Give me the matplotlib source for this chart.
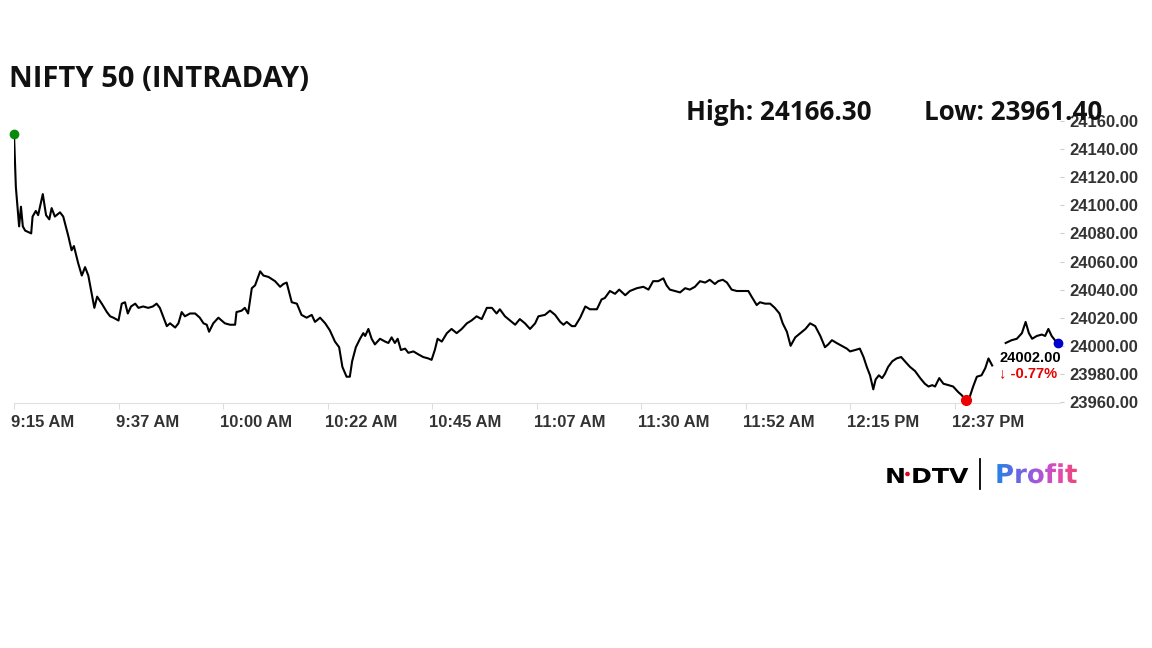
import numpy as np
import matplotlib
matplotlib.use('Agg')
import matplotlib.pyplot as plt
import matplotlib.transforms as mtransforms
from matplotlib.textpath import TextPath
from matplotlib.patches import PathPatch, Circle
from matplotlib.font_manager import FontProperties
from matplotlib.colors import LinearSegmentedColormap

# ====> data: minutes after 9:15 AM and index level
nan = np.nan
minutes = [
    0, 0.4, 1.1, 1.5, 1.9, 2.4, 3.7, 4.0, 4.7, 5.2,
    6.2, 6.9, 7.6, 8.1, 8.8, 9.9, 10.6, 11.7, 12.4, 12.9,
    13.8, 14.6, 15.3, 16.0, 17.3, 17.9, 18.9, 20.0, 20.7, 21.4,
    22.5, 23.2, 23.9, 24.5, 25.2, 26.1, 26.8, 27.8, 28.9, 29.9,
    30.7, 31.4, 32.1, 32.9, 33.6, 34.7, 35.4, 36.1, 36.8, 37.9,
    39.0, 40.0, 40.8, 41.5, 42.0, 42.9, 44.0, 44.7, 45.4, 46.5,
    47.6, 47.9, 49.0, 49.7, 50.4, 51.2, 51.9, 53.0, 53.7, 54.8,
    56.2, 57.3, 58.0, 58.7, 59.8, 60.9, 61.9, 63.0, 64.1, 64.8,
    65.9, 67.0, 68.0, 69.1, 70.0, 70.7, 71.6, 72.3, 72.8, 73.6,
    74.5, 75.2, 75.6, 76.3, 77.0, 77.7, 78.8, 79.9, 80.6, 81.3,
    82.0, 82.6, 83.3, 84.2, 84.9, 86.0, 87.0, 88.1, 89.2, 89.9,
    90.6, 91.2, 92.1, 93.2, 94.2, 95.3, 96.4, 97.5, 98.5, 99.6,
    100.7, 101.8, 102.9, 103.9, 104.6, 105.7, 106.8, 107.9, 108.9, 110.0,
    111.1, 112.2, 112.9, 114.3, 115.4, 116.5, 117.6, 118.3, 119.0, 120.1,
    120.8, 121.9, 123.0, 124.0, 125.5, 126.5, 127.2, 128.3, 129.4, 130.3,
    131.6, 132.6, 134.1, 135.5, 136.6, 137.6, 138.7, 139.8, 140.5, 141.2,
    142.3, 143.4, 144.5, 145.5, 146.6, 147.7, 148.8, 149.8, 150.9, 151.6,
    152.6, 153.5, 154.5, 155.6, 157.0, 158.1, 158.8, 159.9, 160.6, 161.7,
    162.8, 163.8, 164.8, 165.5, 166.4, 167.2, 168.2, 169.3, 170.4, 171.4,
    172.5, 173.6, 174.6, 175.3, 176.1, 177.1, 178.2, 179.3, 180.0, 181.1,
    182.1, 182.9, 183.6, 184.3, 185.0, 185.5, 186.2, 186.9, 187.5, 188.2,
    189.1, 190.0, 191.0, 191.8, 192.9, 194.0, 195.1, 196.1, 196.9, 197.7,
    198.3, 199.2, 200.1, 201.2, 202.2, 203.3, 204.0, 204.9, 205.8, 206.5,
    207.3, 208.3, 209.1, 209.8, 210.6, 212.0, 213.5, 214.8, 215.9, 217.0,
    217.8, 218.5, 219.2, 220.2, 221.3, 222.0, 222.7, 223.4, 224.1, 224.8,
]
prices = [
    24150.7, 24113, 24085, 24099, 24085, 24082, 24080, 24092, 24096, 24093,
    24108, 24093, 24090, 24098, 24092, 24095, 24092, 24078, 24068, 24071,
    24059, 24050, 24056, 24050, 24027, 24035, 24030, 24024, 24021, 24020,
    24018, 24030, 24031, 24023, 24028, 24030, 24027, 24028, 24027, 24028,
    24030, 24027, 24021, 24014, 24016, 24013, 24016, 24024, 24021, 24023,
    24023, 24020, 24016, 24015, 24010, 24016, 24020, 24018, 24016, 24015,
    24015, 24024, 24025, 24027, 24023, 24041, 24043, 24053, 24050, 24049,
    24046, 24042, 24044, 24045, 24031, 24030, 24022, 24020, 24022, 24017,
    24020, 24016, 24011, 24003, 23999, 23985, 23978, 23978, 23989, 23999,
    24005, 24009, 24007, 24012, 24005, 24001, 24005, 24003, 24002, 24006,
    24002, 24005, 23997, 23998, 23995, 23996, 23994, 23992, 23991, 23990,
    23997, 24005, 24003, 24009, 24012, 24009, 24012, 24016, 24018, 24021,
    24019, 24027, 24027, 24023, 24026, 24021, 24018, 24015, 24019, 24016,
    24012, 24016, 24021, 24022, 24025, 24022, 24017, 24015, 24017, 24014,
    24014, 24020, 24028, 24026, 24026, 24033, 24034, 24039, 24037, 24040,
    24036, 24039, 24041, 24042, 24040, 24046, 24046, 24048, 24043, 24040,
    24039, 24038, 24041, 24040, 24042, 24046, 24045, 24047, 24044, 24046,
    24047, 24045, 24040, 24039, 24039, 24039, 24035, 24029, 24031, 24030,
    24030, 24027, 24023, 24016, 24010, 24000, 24006, 24009, 24012, 24016,
    24014, 24007, 23999, 24001, 24004, 24002, 24000, 23998, 23996, 23997,
    23998, 23992, 23985, 23979, 23969, 23976, 23979, 23977, 23980, 23985,
    23989, 23991, 23992, 23989, 23985, 23982, 23977, 23973, 23971, 23972,
    23971, 23977, 23973, 23972, 23971, 23967, 23965, 23961.4, 23964, 23971,
    23978, 23979, 23984, 23991, 23986, nan, 24002, 24004, 24005, 24009,
    24017, 24009, 24005, 24007, 24008, 24007, 24012, 24007, 24004, 24002,
]

tick_minutes = [0, 22.5, 45, 67.5, 90, 112.5, 135, 157.5, 180, 202.5]
tick_labels = ['9:15 AM', '9:37 AM', '10:00 AM', '10:22 AM', '10:45 AM',
               '11:07 AM', '11:30 AM', '11:52 AM', '12:15 PM', '12:37 PM']
y_ticks = [23960, 23980, 24000, 24020, 24040, 24060, 24080, 24100, 24120, 24140, 24160]

day_high = 24166.30
day_low = 23961.40
last_price = 24002.00
change_pct = -0.77

# ====> figure
plt.rcParams['font.family'] = ['Liberation Sans', 'DejaVu Sans']
plt.rcParams['font.weight'] = 'bold'

W, H = 1152, 648
fig = plt.figure(figsize=(W / 100, H / 100), dpi=100)
ax = fig.add_axes([14 / W, 1 - 403.4 / H, 1046 / W, 285.2 / H])

ax.plot(minutes, prices, color='black', lw=1.5, solid_joinstyle='round')

lo = int(np.nanargmin(prices))
ax.plot(minutes[0], prices[0], 'o', color='#0a8a0a', ms=6, clip_on=False, zorder=4)
ax.plot(minutes[lo], prices[lo], 'o', color='#ee0000', ms=7, clip_on=False, zorder=4)
ax.plot(minutes[-1], prices[-1], 'o', color='#0000cc', ms=6, clip_on=False, zorder=4)

ax.set_xlim(0, 225.2)
ax.set_ylim(23959, 24162)

ax.yaxis.tick_right()
ax.set_yticks(y_ticks, [f'{v:.2f}' for v in y_ticks])
ax.set_xticks(tick_minutes, tick_labels)
ax.tick_params(axis='y', length=3, color='#cccccc', pad=3.5, labelsize=12,
               labelcolor='#333333')
ax.tick_params(axis='x', length=4, color='#dddddd', pad=4, labelsize=12,
               labelcolor='#333333')
shift = mtransforms.ScaledTranslation(-3 / 100, 0, fig.dpi_scale_trans)
for lab in ax.get_xticklabels():
    lab.set_horizontalalignment('left')
    lab.set_transform(lab.get_transform() + shift)

for s in ['left', 'right', 'top']:
    ax.spines[s].set_visible(False)
ax.spines['bottom'].set_color('#e0e0e0')

# last price + change
ax.annotate(f'{last_price:.2f}', xy=(minutes[-1], prices[-1]), xytext=(3, -15),
            textcoords='offset pixels', ha='right', va='center', fontsize=10.5,
            color='black')
ax.annotate(f'\u2193 {change_pct:.2f}%', xy=(minutes[-1], prices[-1]), xytext=(-1, -30),
            textcoords='offset pixels', ha='right', va='center', fontsize=10.5,
            color='#e60000', weight='bold')

# ====> titles
fig.text(9 / W, 1 - 86.7 / H, 'NIFTY 50 (INTRADAY)', family='Open Sans',
         weight='bold', fontsize=21, va='baseline', color='#111111')
fig.text(686.5 / W, 1 - 120 / H, f'High: {day_high:.2f}', family='Open Sans',
         weight='bold', fontsize=18.7, va='baseline', color='#111111')
fig.text(924.5 / W, 1 - 120 / H, f'Low: {day_low:.2f}', family='Open Sans',
         weight='bold', fontsize=18.7, va='baseline', color='#111111')

# ====> logo (pixel coordinates, y going down)
ov = fig.add_axes([0, 0, 1, 1], zorder=5)
ov.axis('off')
bold = FontProperties(family='DejaVu Sans', weight='bold')


def text_patch(s, x, base, size, sx=1.0, **kw):
    tp = TextPath((0, 0), s, size=size, prop=bold)
    path = mtransforms.Affine2D().scale(sx, -1).translate(x, base).transform_path(tp)
    patch = PathPatch(path, lw=0, **kw)
    ov.add_patch(patch)
    return patch


text_patch('N', 885, 483, 20.6, sx=1.22, facecolor='black')
text_patch('DTV', 911, 483, 20.6, sx=1.22, facecolor='black')
ov.add_patch(Circle((907.5, 474), 2.3, color='#e3001b', lw=0))
ov.plot([980, 980], [459, 489], color='black', lw=1.3)

prof = text_patch('Profit', 995, 483, 26, facecolor='none')
grad = LinearSegmentedColormap.from_list(
    'profit', ['#1f86e6', '#5f6be4', '#a457db', '#e24bb8', '#ee4668'])
img = ov.imshow(np.linspace(0, 1, 256)[None, :], cmap=grad, aspect='auto',
                extent=(994, 1080, 488, 458))
img.set_clip_path(prof)

ov.set_xlim(0, W)
ov.set_ylim(H, 0)

fig.savefig('out.png', dpi=100, facecolor='white')
plt.close()
